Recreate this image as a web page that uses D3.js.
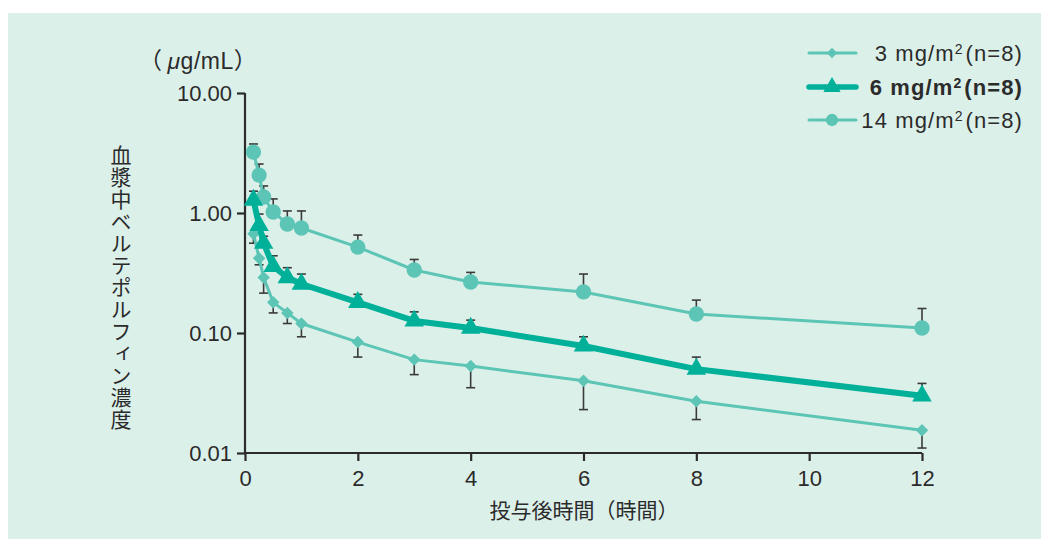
<!DOCTYPE html>
<html>
<head>
<meta charset="utf-8">
<script src="https://cdn.jsdelivr.net/npm/d3@7"></script>
<style>
  html, body { margin: 0; padding: 0; background: #ffffff; }
  svg { display: block; }
  text { font-family: "Liberation Sans", "Noto Sans CJK JP", sans-serif; fill: #2b2b2b; }
  .jp { font-family: "Noto Sans CJK JP", sans-serif; }
</style>
</head>
<body>
<svg id="chart" width="1041" height="539"></svg>
<script>
// Sampling times (hours after dosing)
const times = [0.15, 0.25, 0.33, 0.5, 0.75, 1, 2, 3, 4, 6, 8, 12];

// Mean plasma verteporfin concentration (µg/mL) per dose group
const mean3  = [0.67, 0.42, 0.29, 0.18, 0.147, 0.12, 0.084, 0.060, 0.053, 0.040, 0.027, 0.0155];
const mean6  = [1.28, 0.79, 0.56, 0.36, 0.29, 0.256, 0.18, 0.126, 0.11, 0.078, 0.050, 0.030];
const mean14 = [3.22, 2.07, 1.36, 1.02, 0.81, 0.75, 0.52, 0.335, 0.266, 0.22, 0.144, 0.11];

// Error bar ends (mean − SD for 3 mg/m², mean + SD for the others)
const err3  = [0.56, 0.37, 0.215, 0.147, 0.12, 0.093, 0.063, 0.045, 0.035, 0.023, 0.019, 0.011];
const err6  = [1.52, 0.98, 0.64, 0.44, 0.35, 0.31, 0.21, 0.15, 0.128, 0.093, 0.063, 0.038];
const err14 = [3.76, 2.56, 1.68, 1.31, 1.04, 1.04, 0.655, 0.41, 0.32, 0.31, 0.188, 0.16];

const xTicks = [0, 2, 4, 6, 8, 10, 12];
const yTicks = [0.01, 0.1, 1, 10];
const yTickLabels = ["0.01", "0.10", "1.00", "10.00"];

const seriesNames = ["3 mg/m", "6 mg/m", "14 mg/m"];

const light = "#5cc5b5";
const dark = "#00b099";
const axisColor = "#2b2b2b";

const svg = d3.select("#chart");

// panel background
svg.append("rect").attr("x", 8).attr("y", 13).attr("width", 1033).attr("height", 526)
  .attr("fill", "#dcf0ea");

const x = d3.scaleLinear().domain([0, 12]).range([245, 922]);
const y = d3.scaleLog().domain([0.01, 10]).range([453, 93]);

// axes
const yAxis = d3.axisLeft(y).tickValues(yTicks)
  .tickFormat((d, i) => yTickLabels[i]).tickSize(8).tickSizeOuter(0);
const gy = svg.append("g").attr("transform", `translate(${x(0)},0)`).call(yAxis);

const xAxis = d3.axisBottom(x).tickValues(xTicks).tickFormat(d3.format("d"))
  .tickSize(8).tickSizeOuter(0);
const gx = svg.append("g").attr("transform", `translate(0,${y(0.01)})`).call(xAxis);

[gx, gy].forEach(g => {
  g.select(".domain").attr("stroke", axisColor).attr("stroke-width", 2.2);
  g.selectAll(".tick line").attr("stroke", axisColor).attr("stroke-width", 2.2);
  g.selectAll(".tick text").attr("fill", "#2b2b2b")
    .style("font-family", '"Liberation Sans", sans-serif')
    .style("font-size", "22px");
});
gy.selectAll(".tick text").attr("x", -13).attr("dy", "0.36em");
gx.selectAll(".tick text").attr("y", 33).attr("dy", 0);
// join the two axis lines at the origin
gy.select(".domain").attr("d", `M0,${y(10)}V${y(0.01) + 1}`);
gx.select(".domain").attr("d", `M${-1 + x(0)},0H${x(12)}`);

// units label
const unit = svg.append("text").attr("x", 139).attr("y", 69)
  .style("font-size", "23px").style("letter-spacing", "0.5px");
unit.append("tspan").attr("class", "jp").text("（");
unit.append("tspan").text("μ").attr("dx", 5).style("font-style", "italic");
unit.append("tspan").text("g/mL");
unit.append("tspan").attr("class", "jp").text("）");

// axis titles
svg.append("text").attr("class", "jp").attr("x", 584).attr("y", 518).attr("text-anchor", "middle")
  .style("font-size", "21px").text("投与後時間（時間）");

svg.append("text").attr("class", "jp").attr("x", 121).attr("y", 288).attr("text-anchor", "middle")
  .style("writing-mode", "vertical-rl").style("font-size", "21px")
  .style("letter-spacing", "1px")
  .text("血漿中ベルテポルフィン濃度");

// error bars
function errorBars(means, ends, color) {
  const g = svg.append("g");
  times.forEach((t, i) => {
    const cx = x(t);
    g.append("line").attr("x1", cx).attr("x2", cx)
      .attr("y1", y(means[i])).attr("y2", y(ends[i]))
      .attr("stroke", color).attr("stroke-width", 1.6);
    g.append("line").attr("x1", cx - 4.5).attr("x2", cx + 4.5)
      .attr("y1", y(ends[i])).attr("y2", y(ends[i]))
      .attr("stroke", color).attr("stroke-width", 1.6);
  });
}
errorBars(mean3, err3, "#3a3a3a");
errorBars(mean6, err6, "#3a3a3a");
errorBars(mean14, err14, "#3a3a3a");

const line = d3.line().x((d, i) => x(times[i])).y(d => y(d));

function drawSeries(vals, color, width, symbolType, size) {
  svg.append("path").datum(vals).attr("d", line)
    .attr("fill", "none").attr("stroke", color).attr("stroke-width", width)
    .attr("stroke-linejoin", "round");
  const sym = d3.symbol().type(symbolType).size(size);
  svg.append("g").selectAll("path").data(vals).join("path")
    .attr("d", sym)
    .attr("transform", (d, i) => symbolType === d3.symbolSquare
      ? `translate(${x(times[i])},${y(d)}) rotate(45)`
      : `translate(${x(times[i])},${y(d)})`)
    .attr("fill", color);
}

drawSeries(mean3, light, 3, d3.symbolSquare, 78);
drawSeries(mean14, light, 3, d3.symbolCircle, 185);
drawSeries(mean6, dark, 6, d3.symbolTriangle, 165);

// legend
const legendRows = [
  { name: seriesNames[0], color: light, width: 3, type: d3.symbolSquare, size: 55, bold: false, y: 53 },
  { name: seriesNames[1], color: dark, width: 5.5, type: d3.symbolTriangle, size: 130, bold: true, y: 87 },
  { name: seriesNames[2], color: light, width: 3, type: d3.symbolCircle, size: 120, bold: false, y: 120 }
];
legendRows.forEach(r => {
  const g = svg.append("g");
  g.append("line").attr("x1", 809).attr("x2", 856).attr("y1", r.y).attr("y2", r.y)
    .attr("stroke", r.color).attr("stroke-width", r.width).attr("stroke-linecap", "round");
  g.append("path").attr("d", d3.symbol().type(r.type).size(r.size)())
    .attr("transform", r.type === d3.symbolSquare
      ? `translate(832,${r.y}) rotate(45)` : `translate(832,${r.y})`)
    .attr("fill", r.color);
  const t = g.append("text").attr("x", 1023).attr("y", r.y + 8).attr("text-anchor", "end")
    .style("font-size", "22px").style("font-weight", r.bold ? "bold" : "normal")
    .style("letter-spacing", "1.1px");
  t.append("tspan").text(r.name);
  t.append("tspan").text("2").attr("dy", -7).style("font-size", "14px");
  t.append("tspan").text("(n=8)").attr("dy", 7).attr("dx", 2);
});
</script>
</body>
</html>
